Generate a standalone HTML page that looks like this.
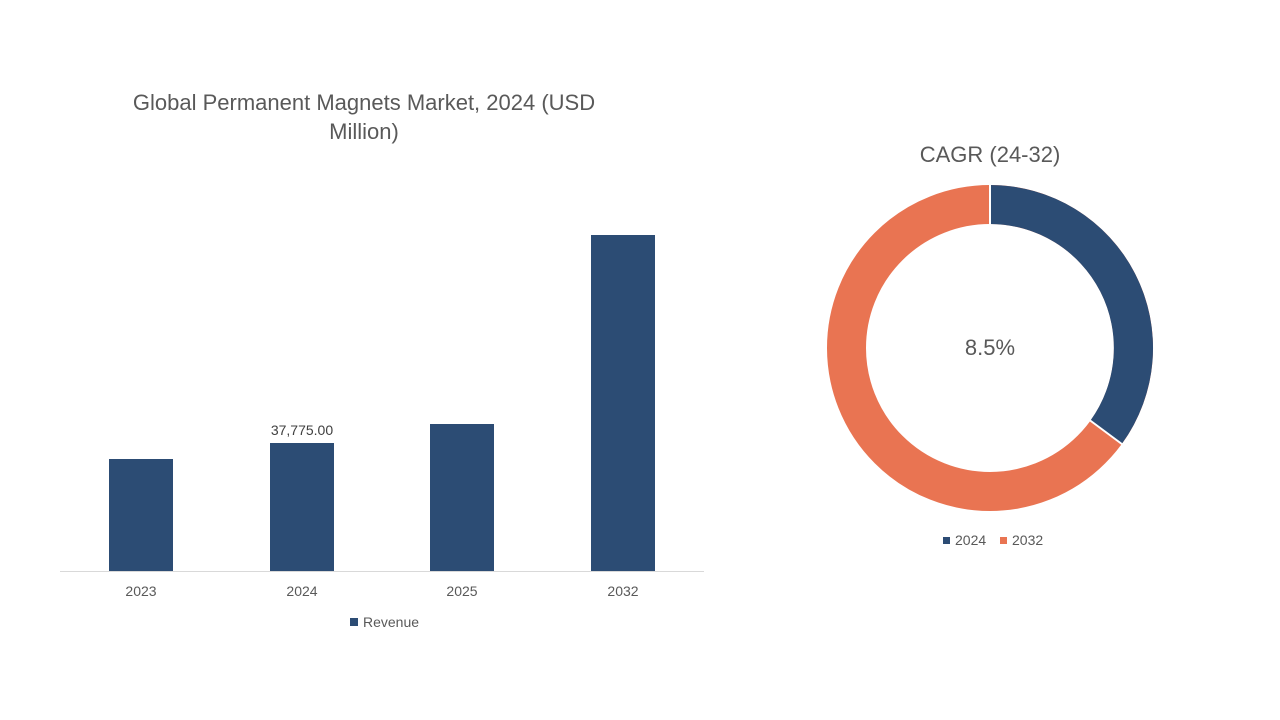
<!DOCTYPE html>
<html><head><meta charset="utf-8"><style>
html,body{margin:0;padding:0;background:#fff;}
body{width:1280px;height:720px;position:relative;overflow:hidden;font-family:"Liberation Sans",sans-serif;color:#595959;}
</style></head><body>
<svg width="1280" height="720" xmlns="http://www.w3.org/2000/svg" style="position:absolute;left:0;top:0">
<g font-family="Liberation Sans, sans-serif" fill="#595959">
<text x="364" y="110" font-size="22" text-anchor="middle">Global Permanent Magnets Market, 2024 (USD</text>
<text x="364" y="139" font-size="22" text-anchor="middle">Million)</text>
<rect x="109" y="459" width="64" height="112" fill="#2c4c74"/>
<rect x="270" y="443" width="64" height="128" fill="#2c4c74"/>
<rect x="430" y="424" width="64" height="147" fill="#2c4c74"/>
<rect x="591" y="235" width="64" height="336" fill="#2c4c74"/>
<line x1="60" y1="571.5" x2="704" y2="571.5" stroke="#d9d9d9" stroke-width="1"/>
<text x="302" y="435" font-size="14" text-anchor="middle" fill="#404040">37,775.00</text>
<text x="141" y="596" font-size="14" text-anchor="middle">2023</text>
<text x="302" y="596" font-size="14" text-anchor="middle">2024</text>
<text x="462" y="596" font-size="14" text-anchor="middle">2025</text>
<text x="623" y="596" font-size="14" text-anchor="middle">2032</text>
<rect x="350" y="618" width="8" height="8" fill="#2c4c74"/>
<text x="363" y="627" font-size="14">Revenue</text>
<text x="990" y="162" font-size="22" text-anchor="middle">CAGR (24-32)</text>
<circle cx="990" cy="348" r="143.5" fill="none" stroke="#e97452" stroke-width="39"/>
<path d="M990 185 A163 163 0 0 1 1121.9 443.8 L1090.3 420.7 A124 124 0 0 0 990 224 Z" fill="#2c4c74"/>
<line x1="990" y1="184" x2="990" y2="225" stroke="#fff" stroke-width="2"/>
<line x1="1089.5" y1="420" x2="1122.5" y2="444.5" stroke="#fff" stroke-width="2"/>
<text x="990" y="355" font-size="22" text-anchor="middle">8.5%</text>
<rect x="943" y="537" width="7" height="7" fill="#2c4c74"/>
<text x="955" y="545" font-size="14">2024</text>
<rect x="1000" y="537" width="7" height="7" fill="#e97452"/>
<text x="1012" y="545" font-size="14">2032</text>
</g></svg>
</body></html>
